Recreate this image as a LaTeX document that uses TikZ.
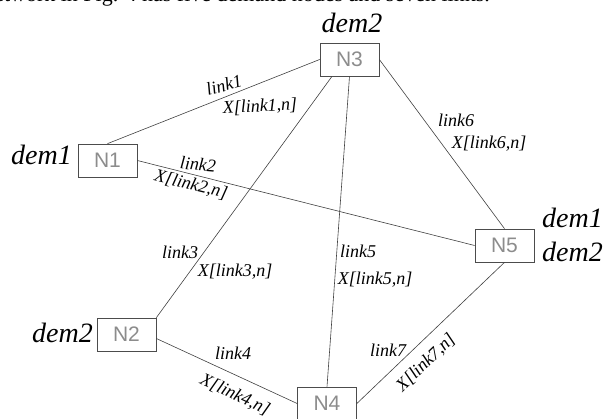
\documentclass[tikz,border=0pt]{standalone}
\usepackage{fontspec}
\setmainfont{Liberation Serif}[ItalicFont={Liberation Serif Italic}]
\newfontfamily\boxfont{Liberation Sans}
\begin{document}
\begin{tikzpicture}[x=1pt,y=-1pt,
  nbox/.style={draw=black!70, line width=0.7pt, minimum width=59pt, minimum height=33pt, inner sep=0pt,
    font=\boxfont\fontsize{21}{21}\selectfont, text=black!45},
  dem/.style={font=\itshape\fontsize{28}{28}\selectfont, inner sep=0pt},
  lab/.style={font=\itshape\fontsize{18}{18}\selectfont, inner sep=0pt},
  link/.style={draw=black!75, line width=0.6pt}]
\useasboundingbox (0,0) rectangle (607,419);
% cut-off caption line at the top
\node[anchor=base east, inner sep=0pt, font=\fontsize{22}{22}\selectfont] (cap) at (490,2)
  {network in Fig. 4 has five demand nodes and seven links.};
% nodes
\node[nbox] (N1) at (107.5,160.5) {N1};
\node[nbox] (N3) at (349.5,59.5) {N3};
\node[nbox] (N5) at (504.5,245.5) {N5};
\node[nbox] (N2) at (126.5,334.5) {N2};
\node[nbox] (N4) at (327,403.5) {N4};
% demand labels
\node[dem, anchor=base] (d3) at (352,33) {dem2};
\node[dem, anchor=base east] (d1) at (72,165) {dem1};
\node[dem, anchor=base west] (d5a) at (542,228) {dem1};
\node[dem, anchor=base west] (d5b) at (542,262) {dem2};
\node[dem, anchor=base east] (d2) at (93,342) {dem2};
% links
\draw[link] (N1.north) -- (N3.west);
\draw[link] (N1.east) -- (N5.west);
\draw[link] (N2.north east) -- ([xshift=-17.5pt]N3.south);
\draw[link] (N3.south) -- (N4.north);
\draw[link] (N3.east) -- (N5.north);
\draw[link] ([yshift=-4pt]N2.east) -- (N4.west);
\draw[link] (N4.east) -- (N5.south);
% link labels
\node[lab, rotate=15] (l1) at (224,85) {link1};
\node[lab, rotate=3] (x1) at (260,107) {X[link1,n]};
\node[lab, rotate=-5] (l2) at (198,164) {link2};
\node[lab, rotate=-14] (x2) at (191,185) {X[link2,n]};
\node[lab] (l3) at (180,252) {link3};
\node[lab] (x3) at (235,272) {X[link3,n]};
\node[lab] (l5) at (358,251) {link5};
\node[lab] (x5) at (375,280) {X[link5,n]};
\node[lab] (l6) at (456,120) {link6};
\node[lab] (x6) at (489,144) {X[link6,n]};
\node[lab] (l4) at (233,353) {link4};
\node[lab, rotate=-25] (x4) at (235,395) {X[link4,n]};
\node[lab] (l7) at (388,350) {link7};
\node[lab, rotate=44] (x7) at (426,363) {X[link7,n]};
\end{tikzpicture}
\end{document}
